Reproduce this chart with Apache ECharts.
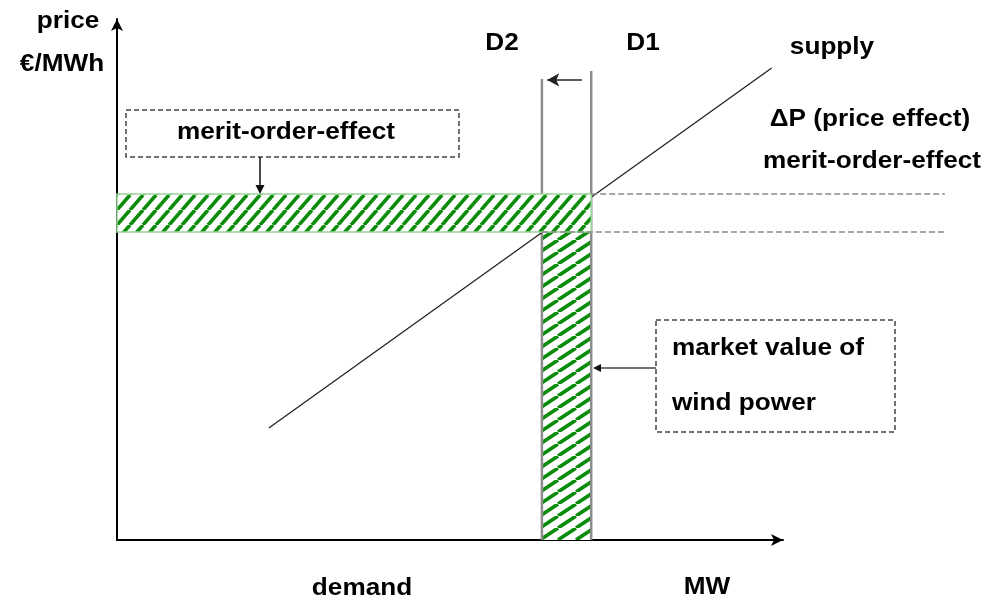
<!DOCTYPE html>
<html><head><meta charset="utf-8">
<script src="https://cdn.jsdelivr.net/npm/echarts@6/dist/echarts.min.js"></script>
<style>html,body{margin:0;padding:0;background:#fff}#c{width:985px;height:599px}</style>
</head><body><div id="c"></div>
<script>
// ---- data (abstract units: quantity 0-100 on x, price 0-100 on y) ----
const supplyQ = [22.8, 98.3];
const supplyP = [21.5, 90.6];
const demandNames = ['D1', 'D2'];
const demandQ = [71.2, 63.8];
const demandTop = [90.0, 88.5];
const priceLevels = [66.4, 59.1];      // price with D1, price with D2
const shiftArrowQ = [69.8, 64.6];
const shiftArrowP = 88.3;
const refLineEndQ = 124.3;

function makePattern(w, h, lw) {
  const c = document.createElement('canvas');
  c.width = w; c.height = h;
  const g = c.getContext('2d');
  g.fillStyle = '#ffffff'; g.fillRect(0, 0, w, h);
  g.strokeStyle = '#0a8c0a'; g.lineWidth = lw; g.lineCap = 'butt';
  for (const dx of [-w, 0, w]) {
    g.beginPath(); g.moveTo(dx, h); g.lineTo(dx + w, 0); g.stroke();
  }
  return { image: c, repeat: 'repeat' };
}
const patH = makePattern(13, 15, 3.6);
const patV = makePattern(18, 12, 3.6);

function bandSeries(rect, fill, stroke, z) {
  return {
    type: 'custom', z: z, silent: true,
    data: [rect],
    encode: { x: [0, 2], y: [1, 3] },
    renderItem: function (params, api) {
      const a = api.coord([api.value(0), api.value(3)]);
      const b = api.coord([api.value(2), api.value(1)]);
      return {
        type: 'rect',
        shape: { x: a[0], y: a[1], width: b[0] - a[0], height: b[1] - a[1] },
        style: { fill: fill, stroke: stroke, lineWidth: stroke === 'none' ? 0 : 1.5 }
      };
    }
  };
}

const FONT = 'bold 24px "Liberation Sans", Arial, sans-serif';
function txt(t, x, y, align) {
  return { type: 'text', x: x, y: y, scaleX: 1.09, z: 10,
    style: { text: t, font: FONT, fill: '#000', align: align || 'center', verticalAlign: 'middle' } };
}

const axisCommon = {
  type: 'value', min: 0, max: 100,
  axisLine: { show: true, onZero: false, symbol: ['none', 'arrow'], symbolSize: [9, 12],
    lineStyle: { color: '#000', width: 2 } },
  axisTick: { show: false }, axisLabel: { show: false }, splitLine: { show: false }
};

const staticGraphics = [
  txt('price', 68, 21),
  txt('€/MWh', 62, 64),
  txt('D2', 502, 43),
  txt('D1', 643, 43),
  txt('supply', 832, 47),
  txt('ΔP (price effect)', 870, 119),
  txt('merit-order-effect', 872, 161),
  txt('merit-order-effect', 286, 132),
  txt('market value of', 672, 348, 'left'),
  txt('wind power', 672, 403, 'left'),
  txt('demand', 362, 588),
  txt('MW', 707, 587),
  { type: 'rect', z: 10, shape: { x: 126, y: 110, width: 333, height: 47 },
    style: { fill: 'transparent', stroke: '#444', lineWidth: 1.5, lineDash: [5, 3] } },
  { type: 'rect', z: 10, shape: { x: 656, y: 320, width: 239, height: 112 },
    style: { fill: 'transparent', stroke: '#444', lineWidth: 1.5, lineDash: [5, 3] } },
  { type: 'line', z: 10, shape: { x1: 260, y1: 157, x2: 260, y2: 186 },
    style: { stroke: '#111', lineWidth: 1.5 } },
  { type: 'polygon', z: 10, shape: { points: [[255.5, 185], [264.5, 185], [260, 194]] },
    style: { fill: '#111' } },
  { type: 'line', z: 10, shape: { x1: 656, y1: 368, x2: 600, y2: 368 },
    style: { stroke: '#444', lineWidth: 1.5 } },
  { type: 'polygon', z: 10, shape: { points: [[601, 364], [601, 372], [593, 368]] },
    style: { fill: '#111' } }
];

const chart = echarts.init(document.getElementById('c'), null, { renderer: 'canvas' });
chart.setOption({
  animation: false,
  backgroundColor: '#fff',
  grid: { left: 117, right: 202, top: 19, bottom: 59 },
  xAxis: axisCommon,
  yAxis: axisCommon,
  series: [
    bandSeries([demandQ[1], 0, demandQ[0], priceLevels[1]], patV, 'none', 1),
    {
      type: 'line', name: demandNames[0], z: 2, symbol: 'none', silent: true,
      lineStyle: { color: '#8c8c8c', width: 2.5 },
      data: [[demandQ[0], 0], [demandQ[0], demandTop[0]]]
    },
    {
      type: 'line', name: demandNames[1], z: 2, symbol: 'none', silent: true,
      lineStyle: { color: '#8c8c8c', width: 2.5 },
      data: [[demandQ[1], 0], [demandQ[1], demandTop[1]]],
      markLine: {
        silent: true, symbol: ['none', 'arrow'], symbolSize: [10, 12],
        label: { show: false },
        lineStyle: { color: '#222', width: 1.5, type: 'solid' },
        itemStyle: { color: '#111' },
        data: [[{ coord: [shiftArrowQ[0], shiftArrowP] }, { coord: [shiftArrowQ[1], shiftArrowP] }]]
      }
    },
    {
      type: 'line', name: 'supply', z: 2, symbol: 'none', silent: true,
      lineStyle: { color: '#222', width: 1.3 },
      data: [[supplyQ[0], supplyP[0]], [supplyQ[1], supplyP[1]]]
    },
    bandSeries([0, priceLevels[1], demandQ[0], priceLevels[0]], patH, '#9ad69a', 3)
  ],
  graphic: staticGraphics
});

// dashed price reference lines, positioned through the chart's own scales
const refLines = [[demandQ[0], priceLevels[0]], [demandQ[1], priceLevels[1]]].map(function (pt) {
  const a = chart.convertToPixel({ gridIndex: 0 }, pt);
  const b = chart.convertToPixel({ gridIndex: 0 }, [refLineEndQ, pt[1]]);
  return { type: 'line', z: 9, shape: { x1: a[0], y1: a[1], x2: b[0], y2: b[1] },
    style: { stroke: '#8a8a8a', lineWidth: 1.5, lineDash: [6, 3] } };
});
chart.setOption({ graphic: staticGraphics.concat(refLines) }, { replaceMerge: ['graphic'] });
</script>
</body></html>
